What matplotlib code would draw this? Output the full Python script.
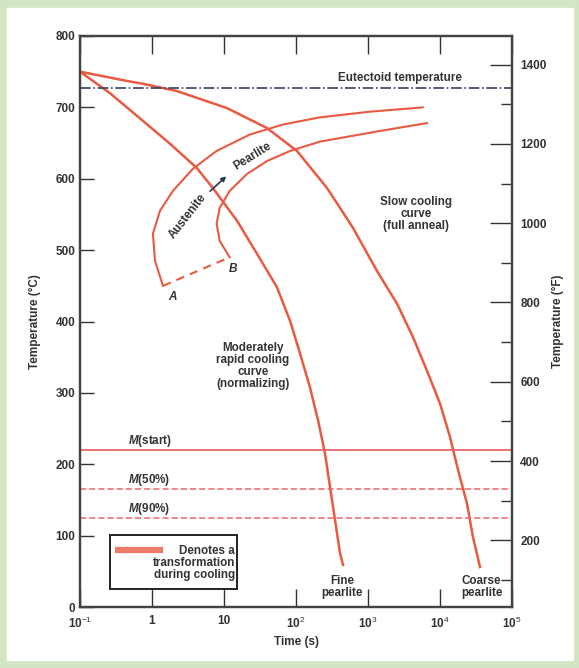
import matplotlib.pyplot as plt
import matplotlib.patches as mpatches
import numpy as np
from matplotlib.ticker import FixedLocator, NullLocator

plt.rcParams['font.family'] = ['Liberation Sans', 'DejaVu Sans']
plt.rcParams['mathtext.fontset'] = 'custom'
plt.rcParams['mathtext.rm'] = 'Liberation Sans'
plt.rcParams['mathtext.it'] = 'Liberation Sans:italic:bold'
plt.rcParams['mathtext.bf'] = 'Liberation Sans:bold'

# Cooling curves (time in s, temperature in C)
normal_t = [0.1, 0.26, 0.75, 1.78, 4.2, 7.0, 15.2, 28.7, 54.4, 82.6, 114, 156, 202, 253,
            297, 348, 408, 450]
normal_T = [750, 720, 681, 649, 615, 587, 541, 495, 448, 401, 355, 308, 262, 215,
            168, 122, 76, 59]
slow_t = [0.1, 0.45, 0.75, 2.2, 4.6, 11, 39.6, 103, 270, 620, 1330, 2530, 4220, 6590,
          10000, 13800, 17800, 23700, 28700, 35900]
slow_T = [750, 737, 733, 723, 712, 699, 671, 639, 587, 531, 471, 425, 378, 331,
          285, 238, 192, 145, 98, 56]

# Transformation start / finish curves
start_t = [1.42, 1.10, 1.03, 1.29, 1.95, 3.7, 7.9, 23, 66, 214, 1070, 5750]
start_T = [450, 485, 523, 555, 583, 614, 639, 662, 676, 686, 694, 700]
finish_t = [12, 8.7, 7.9, 8.7, 12, 21, 40, 83, 214, 1480, 6600]
finish_T = [490, 513, 537, 559, 583, 607, 625, 639, 652, 667, 678]
ab_t = [1.42, 12]
ab_T = [450, 490]

eutectoid_T = 727
m_start, m_50, m_90 = 220, 165, 125

xticks = [0.1, 1, 10, 100, 1000, 1e4, 1e5]
xticklabels = ["10$^{-1}$", "1", "10", "10$^{2}$", "10$^{3}$", "10$^{4}$", "10$^{5}$"]

red = "#e95a42"
mred = "#e8676a"
dark = "#333333"

fig = plt.figure(figsize=(5.79, 6.68), dpi=100)
fig.patch.set_facecolor("#d3e5c2")
fig.patches.append(mpatches.Rectangle((7 / 579, 8 / 668), 566 / 579, 652 / 668,
                                      transform=fig.transFigure, color="white", zorder=-5))
ax = fig.add_axes([80 / 579, 1 - 607 / 668, 432 / 579, 571 / 668])
ax.set_zorder(2)
ax.patch.set_alpha(0)

ax.set_xscale("log")
ax.set_xlim(0.1, 1e5)
ax.set_ylim(0, 800)

# cooling curves
ax.plot(normal_t, normal_T, color=red, lw=1.8)
ax.plot(slow_t, slow_T, color=red, lw=1.8)
ax.plot(start_t, start_T, color=red, lw=1.5)
ax.plot(finish_t, finish_T, color=red, lw=1.5)
ax.plot(ab_t, ab_T, color=red, lw=1.5, ls=(0, (4, 3)))

# reference lines
ax.axhline(eutectoid_T, color="#34425e", lw=1.2, ls="-.")
ax.axhline(m_start, color=mred, lw=1.3)
ax.axhline(m_50, color=mred, lw=1.1, ls=(0, (4, 2)))
ax.axhline(m_90, color=mred, lw=1.1, ls=(0, (4, 2)))

fs = 8.4
tkw = dict(fontsize=fs, color=dark, fontweight="bold")
ax.text(2780, 741, "Eutectoid temperature", ha="center", va="center", **tkw)
ax.text(4650, 550, "Slow cooling\ncurve\n(full anneal)", ha="center", va="center",
        linespacing=1.0, **tkw)
ax.text(25, 338, "Moderately\nrapid cooling\ncurve\n(normalizing)", ha="center", va="center",
        linespacing=1.0, **tkw)
ax.text(0.47, 232, "$M$(start)", ha="left", va="center", **tkw)
ax.text(0.47, 178, "$M$(50%)", ha="left", va="center", **tkw)
ax.text(0.47, 138, "$M$(90%)", ha="left", va="center", **tkw)
ax.text(440, 28, "Fine\npearlite", ha="center", va="center", linespacing=1.0, **tkw)
ax.text(38000, 28, "Coarse\npearlite", ha="center", va="center", linespacing=1.0, **tkw)
ax.text(1.95, 434, "A", ha="center", va="center", fontsize=8.5, color=dark,
        fontstyle="italic", fontweight="bold")
ax.text(13.5, 474, "B", ha="center", va="center", fontsize=8.5, color=dark,
        fontstyle="italic", fontweight="bold")
ax.text(3.16, 548, "Austenite", rotation=52, ha="center", va="center", **tkw)
ax.text(25, 631, "Pearlite", rotation=32, ha="center", va="center", **tkw)
ax.annotate("", xy=(11.5, 606), xytext=(6.0, 580),
            arrowprops=dict(arrowstyle="-|>", color="#2a3550", lw=1.2, mutation_scale=7))

# legend box
box = mpatches.Rectangle((30 / 432, 18 / 571), 127 / 432, 54 / 571,
                         transform=ax.transAxes, fill=False, ec="#222222", lw=1.4)
ax.add_patch(box)
ax.plot([35 / 432, 83 / 432], [57 / 571] * 2, transform=ax.transAxes,
        color="#f07a6a", lw=4.5, solid_capstyle="butt")
ax.text(155 / 432, 44 / 571, "Denotes a\ntransformation\nduring cooling",
        transform=ax.transAxes, ha="right", va="center", linespacing=1.05, **tkw)

# axes styling
ax.set_xticks(xticks)
ax.set_xticklabels(xticklabels)
ax.xaxis.set_minor_locator(NullLocator())
ax.set_yticks(range(0, 801, 100))
ax.tick_params(axis="y", direction="in", length=10, width=1.0, colors=dark,
               labelsize=8.5, labelcolor=dark)
ax.tick_params(axis="x", direction="in", length=13, width=1.0, colors=dark,
               labelsize=8.5, top=True, pad=6)
for lab in ax.get_xticklabels() + ax.get_yticklabels():
    lab.set_fontweight("bold")
for s in ax.spines.values():
    s.set_color("#444444")
    s.set_linewidth(1.6)
ax.set_xlabel("Time (s)", fontsize=8.5, fontweight="bold", color=dark, labelpad=4)
ax.set_ylabel("Temperature (°C)", fontsize=8.5, fontweight="bold", color=dark, labelpad=10)

ax2 = ax.twinx()
ax2.set_ylim(0 * 9 / 5 + 32, 800 * 9 / 5 + 32)
ax2.set_yticks(range(200, 1401, 200))
ax2.yaxis.set_minor_locator(FixedLocator(range(100, 1401, 200)))
ax2.tick_params(axis="y", which="major", direction="in", length=16, width=1.0,
                colors=dark, labelsize=8.5, pad=6)
ax2.tick_params(axis="y", which="minor", direction="in", length=8, width=1.0, colors=dark)
for lab in ax2.get_yticklabels():
    lab.set_fontweight("bold")
for s in ax2.spines.values():
    s.set_color("#444444")
    s.set_linewidth(1.6)
ax2.set_ylabel("Temperature (°F)", fontsize=8.5, fontweight="bold", color=dark,
               rotation=90, labelpad=4)

fig.savefig("out.png", dpi=100, facecolor=fig.get_facecolor())
